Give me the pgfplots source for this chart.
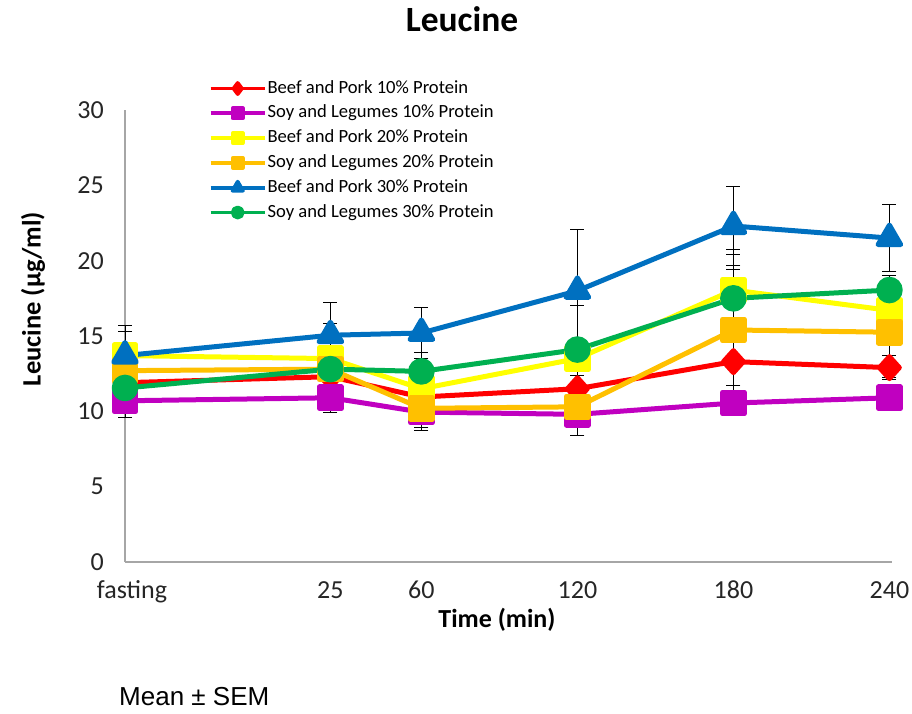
\documentclass[border=0pt]{standalone}
\usepackage{fontspec}
\setmainfont{Carlito}
\newfontfamily\arialfont{Liberation Sans}
\usepackage{pgfplots}
\pgfplotsset{compat=1.18}
\definecolor{cRed}{HTML}{FF0000}
\definecolor{cMag}{HTML}{C000C0}
\definecolor{cYel}{HTML}{FFFF00}
\definecolor{cOra}{HTML}{FFC000}
\definecolor{cBlu}{HTML}{0070C0}
\definecolor{cGre}{HTML}{00B050}
\definecolor{axgray}{HTML}{A6A6A6}
\pgfplotsset{
  ebars/.style={error bars/.cd, y dir=both, y explicit,
    error bar style={black, line width=0.9pt, solid},
    error mark options={rotate=90, mark size=7pt, black, line width=0.9pt}},
  ser/.style={line width=5pt, line join=round, color=#1, mark options={solid, fill=#1, draw=#1}},
}
\begin{document}
\begin{tikzpicture}
\useasboundingbox (0,0) rectangle (912pt,713pt);
\begin{axis}[
  at={(125pt,151pt)}, anchor=south west,
  scale only axis, width=767pt, height=452pt,
  xmin=-54, xmax=241, ymin=0, ymax=30,
  clip=false,
  axis x line*=bottom, axis y line*=left,
  axis line style={draw=axgray, line width=1.3pt, -},
  major tick length=0pt,
  xtick={-54,25,60,120,180,240},
  xticklabels={\hspace*{14pt}fasting,25,60,120,180,240},
  ytick={0,5,10,15,20,25,30},
  tick label style={font=\fontsize{26}{28}\selectfont, text=black!85},
  yticklabel style={anchor=east, inner sep=0pt, xshift=-21pt},
  xticklabel style={anchor=base, inner sep=0pt, yshift=-36pt},
  /pgf/number format/assume math mode=true,
  legend style={at={(0.109,1.069)}, anchor=north west, draw=none, fill=none,
    font=\fontsize{18.6}{20}\selectfont, row sep=5.8pt, inner sep=0pt,
    nodes={inner sep=1pt, text height=13pt, text depth=4pt},
    legend cell align=left},
  legend image code/.code={\draw[#1, mark repeat=2, mark phase=2] plot coordinates {(0pt,0pt) (27pt,0pt) (54pt,0pt)};},
]
\addlegendimage{ser=cRed, line width=3.8pt, mark=diamond*, mark size=5.5pt}
\addlegendentry{Beef and Pork 10\% Protein}
\addlegendimage{ser=cMag, line width=3.8pt, mark=square*, mark size=5pt}
\addlegendentry{Soy and Legumes 10\% Protein}
\addlegendimage{ser=cYel, line width=3.8pt, mark=square*, mark size=5pt}
\addlegendentry{Beef and Pork 20\% Protein}
\addlegendimage{ser=cOra, line width=3.8pt, mark=square*, mark size=5pt}
\addlegendentry{Soy and Legumes 20\% Protein}
\addlegendimage{ser=cBlu, line width=3.8pt, mark=triangle*, mark size=6pt}
\addlegendentry{Beef and Pork 30\% Protein}
\addlegendimage{ser=cGre, line width=3.8pt, mark=*, mark size=5pt}
\addlegendentry{Soy and Legumes 30\% Protein}

% Beef and Pork 10%
\addplot[ser=cRed, mark=diamond*, mark size=11pt, mark options={xscale=1.2}, forget plot, ebars]
coordinates {(-54,11.9) +- (0,0.8) (25,12.3) +- (0,0.7) (60,10.95) +- (0,1.0) (120,11.5) +- (0,0.9) (180,13.3) +- (0,1.6) (240,12.9) +- (0,0.8)};
% Soy and Legumes 10%
\addplot[ser=cMag, mark=square*, mark size=10.8pt, forget plot, ebars]
coordinates {(-54,10.7) +- (0,1.1) (25,10.9) +- (0,1.0) (60,9.95) +- (0,1.0) (120,9.8) +- (0,1.4) (180,10.55) +- (0,0.8) (240,10.9) +- (0,0.7)};
% Beef and Pork 20%
\addplot[ser=cYel, mark=square*, mark size=10.8pt, forget plot, ebars]
coordinates {(-54,13.7) +- (0,1.6) (25,13.5) +- (0,2.3) (60,11.5) +- (0,1.2) (120,13.5) +- (0,3.5) (180,18.05) +- (0,2.7) (240,16.7) +- (0,2.3)};
% Soy and Legumes 20%
\addplot[ser=cOra, mark=square*, mark size=10.8pt, forget plot, ebars]
coordinates {(-54,12.7) +- (0,1.0) (25,12.8) +- (0,0.8) (60,10.2) +- (0,1.5) (120,10.3) +- (0,1.0) (180,15.4) +- (0,4.0) (240,15.25) +- (0,3.0)};
% Beef and Pork 30%
\addplot[ser=cBlu, mark=triangle*, mark size=13pt, forget plot, ebars]
coordinates {(-54,13.7) +- (0,2.0) (25,15.05) +- (0,2.15) (60,15.2) +- (0,1.7) (120,18.0) +- (0,4.1) (180,22.3) +- (0,2.6) (240,21.5) +- (0,2.2)};
% Soy and Legumes 30%
\addplot[ser=cGre, mark=*, mark size=10.8pt, forget plot, ebars]
coordinates {(-54,11.55) +- (0,1.5) (25,12.8) +- (0,1.2) (60,12.65) +- (0,1.25) (120,14.1) +- (0,2.9) (180,17.5) +- (0,2.9) (240,18.05) +- (0,0.95)};
\end{axis}
\node[anchor=base, font=\fontsize{35.5}{38}\selectfont\bfseries] at (462pt,681pt) {Leucine};
\node[rotate=90, font=\fontsize{26.5}{28}\selectfont\bfseries] at (33pt,414pt) {Leucine (µg/ml)};
\node[anchor=base, font=\fontsize{26}{28}\selectfont\bfseries] at (497pt,86pt) {Time (min)};
\node[anchor=base west, inner sep=0pt, font=\arialfont\fontsize{26}{28}\selectfont] at (119pt,8pt) {Mean ± SEM};
\end{tikzpicture}
\end{document}
